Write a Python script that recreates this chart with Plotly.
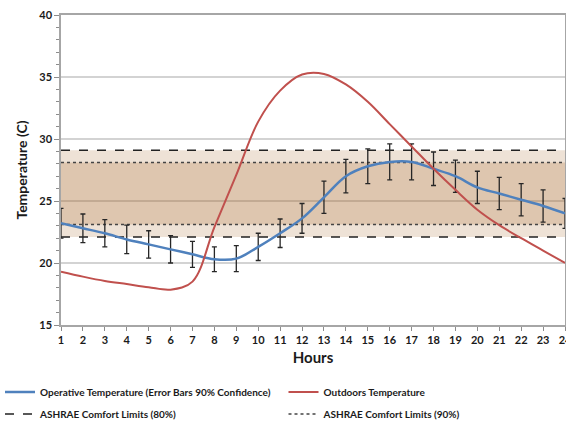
import plotly.graph_objects as go

hours = list(range(1, 25))
operative = [23.2, 22.8, 22.4, 21.9, 21.5, 21.1, 20.7, 20.3, 20.35, 21.3, 22.4, 23.6,
             25.3, 27.0, 27.8, 28.15, 28.15, 27.6, 27.0, 26.1, 25.6, 25.1, 24.6, 24.0]
operative_err = [1.2, 1.15, 1.1, 1.15, 1.1, 1.1, 1.05, 1.0, 1.05, 1.1, 1.15, 1.2,
                 1.3, 1.35, 1.4, 1.45, 1.45, 1.35, 1.3, 1.3, 1.3, 1.3, 1.3, 1.2]
outdoors = [19.3, 18.9, 18.55, 18.3, 18.05, 17.85, 18.5, 22.9, 27.1, 31.4, 33.9, 35.2,
            35.25, 34.4, 33.0, 31.2, 29.4, 27.6, 25.9, 24.3, 23.05, 22.0, 21.0, 20.0]
ashrae80 = [22.1, 29.1]   # lower, upper
ashrae90 = [23.1, 28.1]
y_ticks = [15, 20, 25, 30, 35, 40]

FONT = "Lato"
x0, x1 = hours[0], hours[-1]
W, H = 566, 427


def legend_at(px, py):
    return dict(xref="container", yref="container", x=px / W, y=1 - py / H,
                xanchor="left", yanchor="middle", orientation="h",
                font=dict(family=FONT, size=10, weight="bold", color="#1a1a1a"),
                bgcolor="rgba(0,0,0,0)", itemwidth=30)


fig = go.Figure()

# comfort bands
fig.add_trace(go.Scatter(x=[x0, x1, x1, x0], y=[ashrae80[0], ashrae80[0], ashrae80[1], ashrae80[1]],
                         fill="toself", fillcolor="rgba(170,110,50,0.2)", line=dict(width=0),
                         mode="lines", showlegend=False, hoverinfo="skip"))
fig.add_trace(go.Scatter(x=[x0, x1, x1, x0], y=[ashrae90[0], ashrae90[0], ashrae90[1], ashrae90[1]],
                         fill="toself", fillcolor="rgba(170,110,50,0.24)", line=dict(width=0),
                         mode="lines", showlegend=False, hoverinfo="skip"))

fig.add_trace(go.Scatter(x=[x0, x1, None, x0, x1], y=[ashrae80[0], ashrae80[0], None, ashrae80[1], ashrae80[1]],
                         mode="lines", name="ASHRAE Comfort Limits (80%)", legend="legend3",
                         line=dict(color="#222222", width=1.5, dash="dash")))
fig.add_trace(go.Scatter(x=[x0, x1, None, x0, x1], y=[ashrae90[0], ashrae90[0], None, ashrae90[1], ashrae90[1]],
                         mode="lines", name="ASHRAE Comfort Limits (90%)", legend="legend4",
                         line=dict(color="#444444", width=1.5, dash="dot")))
fig.add_trace(go.Scatter(x=hours, y=operative, mode="lines", name="Operative Temperature (Error Bars 90% Confidence)",
                         legend="legend",
                         line=dict(color="#4f81bd", width=2.5, shape="spline", smoothing=1.0),
                         error_y=dict(type="data", array=operative_err, color="#262626", thickness=1.3, width=2.5)))
fig.add_trace(go.Scatter(x=hours, y=outdoors, mode="lines", name="Outdoors Temperature", legend="legend2",
                         line=dict(color="#c0504d", width=2, shape="spline", smoothing=1.0)))

fig.update_layout(
    width=W, height=H,
    margin=dict(l=61, r=1, t=15, b=102, autoexpand=False),
    paper_bgcolor="white", plot_bgcolor="white",
    font=dict(family=FONT, color="#1a1a1a", size=11),
    showlegend=True,
    legend=legend_at(-19.5, 392),
    legend2=legend_at(283.5, 392),
    legend3=legend_at(-19.5, 414),
    legend4=legend_at(283.5, 414),
)
fig.update_xaxes(range=[x0, x1], tickmode="array", tickvals=hours, ticktext=[str(h) for h in hours],
                 showgrid=False, zeroline=False, showline=True, linecolor="#a6a6a6", linewidth=1.5, mirror=True,
                 ticks="outside", ticklen=4, tickcolor="#8c8c8c", ticklabeloverflow="allow",
                 tickfont=dict(family=FONT, size=11, weight="bold", color="#1a1a1a"),
                 title=dict(text="Hours", font=dict(family=FONT, size=15, weight="bold", color="#1a1a1a"), standoff=8))
fig.update_yaxes(range=[15, 40], tickmode="array", tickvals=y_ticks,
                 showgrid=True, gridcolor="#d3d3d3", gridwidth=1.5, zeroline=False,
                 showline=True, linecolor="#a6a6a6", linewidth=1.5, mirror=True,
                 ticks="outside", ticklen=5, tickcolor="#8c8c8c",
                 minor=dict(dtick=1, ticks="outside", ticklen=3, tickcolor="#8c8c8c", showgrid=False),
                 tickfont=dict(family=FONT, size=11, weight="bold", color="#1a1a1a"),
                 title=dict(text="Temperature (C)", font=dict(family=FONT, size=14, weight="bold", color="#1a1a1a"), standoff=8))

fig.write_html("out.html")
